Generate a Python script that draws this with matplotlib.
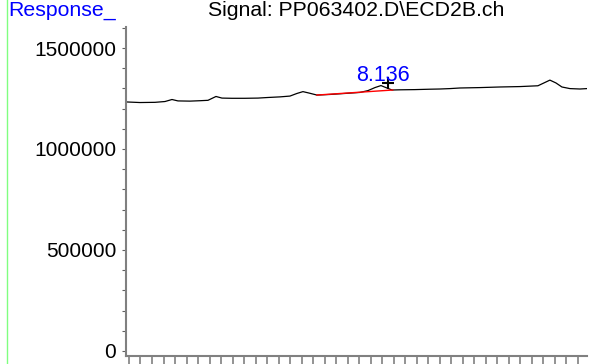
import matplotlib.pyplot as plt
from matplotlib.ticker import MultipleLocator

# signal trace (time in min, detector response)
times = [2.435, 2.739, 3.065, 3.282, 3.434, 3.564, 3.825, 4.042, 4.216, 4.390,
         4.520, 4.737, 5.020, 5.302, 5.519, 5.780, 5.997, 6.149, 6.279, 6.410,
         6.583, 6.866, 7.192, 7.517, 7.691, 7.843, 7.974, 8.082, 8.213, 8.386,
         8.712, 9.038, 9.255, 9.472, 9.689, 10.124, 10.558, 10.993, 11.384,
         11.514, 11.644, 11.775, 11.905, 12.079, 12.296, 12.448]
response = [1233000, 1230000, 1231000, 1235000, 1245000, 1238000, 1237000,
            1239000, 1241000, 1260000, 1252000, 1251000, 1251000, 1252000,
            1255000, 1258000, 1262000, 1275000, 1284000, 1277000, 1267000,
            1270000, 1275000, 1280000, 1289000, 1304000, 1314000, 1304000,
            1292000, 1293000, 1294000, 1296000, 1297000, 1299000, 1302000,
            1304000, 1307000, 1309000, 1313000, 1327000, 1341000, 1327000,
            1307000, 1299000, 1297000, 1299000]

# integration baseline under the labelled peak
base_times = [6.58, 8.23]
base_response = [1267000, 1292000]

peak_time = 8.136
peak_apex = 1328000
peak_label = "8.136"

y_ticks = [0, 500000, 1000000, 1500000]


def main():
    plt.rcParams['font.family'] = ['Liberation Sans', 'DejaVu Sans']
    fig = plt.figure(figsize=(5.89, 3.64), dpi=100)
    ax = fig.add_axes([126 / 589, 8 / 364, 461 / 589, 329 / 364])

    ax.plot(times, response, color='black', lw=0.9)
    ax.plot(base_times, base_response, color='red', lw=1.0)
    ax.plot(peak_time, peak_apex, marker='+', color='black', ms=9, mew=1.5)
    ax.text(8.02, 1366000, peak_label, color='#0000ff', fontsize=15.5,
            ha='center', va='center')

    ax.set_xlim(2.435, 12.45)
    ax.set_ylim(-25000, 1604000)

    for side in ['top', 'right']:
        ax.spines[side].set_visible(False)
    for side in ['left', 'bottom']:
        ax.spines[side].set_color('#808080')
        ax.spines[side].set_linewidth(1.5)

    ax.set_yticks(y_ticks)
    ax.set_yticklabels([str(v) for v in y_ticks])
    ax.yaxis.set_minor_locator(MultipleLocator(100000))
    ax.tick_params(axis='y', which='both', length=3, width=0.8,
                   color='#606060', labelsize=15, pad=4)
    ax.xaxis.set_major_locator(MultipleLocator(0.25))
    ax.tick_params(axis='x', which='major', length=8, width=1.2,
                   color='#808080', labelbottom=False)

    fig.text(356 / 589, 1 - 10 / 364, "Signal: PP063402.D\\ECD2B.ch",
             fontsize=15.3, ha='center', va='center')
    fig.text(8 / 589, 1 - 10 / 364, "Response_", color='#0000ff',
             fontsize=15.3, ha='left', va='center')
    fig.add_artist(plt.Line2D([7 / 589, 7 / 589], [0, 1], color='#80ff80',
                              lw=1.0, transform=fig.transFigure))

    fig.savefig('out.png', dpi=100)


if __name__ == "__main__":
    main()
